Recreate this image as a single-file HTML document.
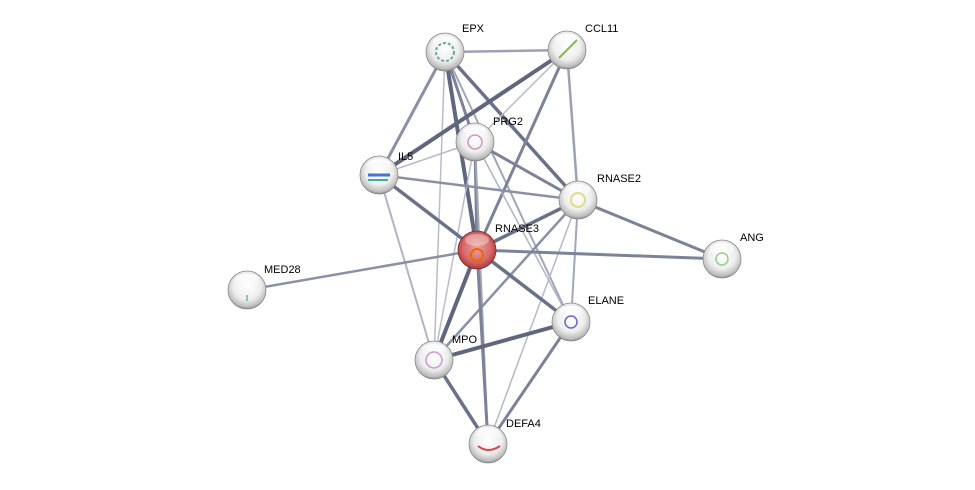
<!DOCTYPE html>
<html><head><meta charset="utf-8"><style>
html,body{margin:0;padding:0;background:#fff;}
svg{display:block;}
text{font-family:"Liberation Sans",sans-serif;font-size:11px;fill:#000;}
</style></head><body>
<svg width="975" height="490" viewBox="0 0 975 490" xmlns="http://www.w3.org/2000/svg">
<defs>
<radialGradient id="g" cx="50%" cy="40%" r="60%">
<stop offset="0" stop-color="#ffffff"/><stop offset="0.6" stop-color="#eeeeee"/><stop offset="0.9" stop-color="#bdbdbd"/><stop offset="1" stop-color="#8e8e8e"/>
</radialGradient>
<radialGradient id="r" cx="50%" cy="45%" r="60%">
<stop offset="0" stop-color="#e9a0a0"/><stop offset="0.6" stop-color="#d76a6a"/><stop offset="0.9" stop-color="#b03c3c"/><stop offset="1" stop-color="#7d2a2a"/>
</radialGradient>
<linearGradient id="h" x1="0" y1="0" x2="0" y2="1"><stop offset="0" stop-color="#fff" stop-opacity="0.95"/><stop offset="1" stop-color="#fff" stop-opacity="0"/></linearGradient>
</defs>
<g stroke-linecap="butt">
<line x1="445" y1="52" x2="567" y2="50" stroke="#9ca1b3" stroke-width="2.5"/>
<line x1="445" y1="52" x2="379" y2="175" stroke="#8a90a5" stroke-width="3"/>
<line x1="445" y1="52" x2="475" y2="142" stroke="#7c8298" stroke-width="3"/>
<line x1="445" y1="52" x2="477" y2="250" stroke="#5f667d" stroke-width="4"/>
<line x1="445" y1="52" x2="578" y2="200" stroke="#6b7188" stroke-width="3.5"/>
<line x1="445" y1="52" x2="571" y2="322" stroke="#a2a7b8" stroke-width="2"/>
<line x1="445" y1="52" x2="434" y2="360" stroke="#b9bccb" stroke-width="1.5"/>
<line x1="567" y1="50" x2="379" y2="175" stroke="#5f667d" stroke-width="4"/>
<line x1="567" y1="50" x2="475" y2="142" stroke="#b5b9c8" stroke-width="1.5"/>
<line x1="567" y1="50" x2="578" y2="200" stroke="#9ca1b3" stroke-width="2.5"/>
<line x1="567" y1="50" x2="477" y2="250" stroke="#7c8298" stroke-width="3"/>
<line x1="475" y1="142" x2="379" y2="175" stroke="#b5b9c8" stroke-width="1.5"/>
<line x1="475" y1="142" x2="578" y2="200" stroke="#7c8298" stroke-width="3"/>
<line x1="475" y1="142" x2="477" y2="250" stroke="#7c8298" stroke-width="3"/>
<line x1="475" y1="142" x2="434" y2="360" stroke="#b9bccb" stroke-width="1.5"/>
<line x1="475" y1="142" x2="571" y2="322" stroke="#b0b4c4" stroke-width="1.5"/>
<line x1="475" y1="142" x2="488" y2="444" stroke="#a2a7b8" stroke-width="2"/>
<line x1="379" y1="175" x2="578" y2="200" stroke="#8a90a5" stroke-width="2.5"/>
<line x1="379" y1="175" x2="477" y2="250" stroke="#6b7188" stroke-width="3.5"/>
<line x1="379" y1="175" x2="434" y2="360" stroke="#b0b4c4" stroke-width="2"/>
<line x1="578" y1="200" x2="477" y2="250" stroke="#6b7188" stroke-width="3.5"/>
<line x1="578" y1="200" x2="722" y2="259" stroke="#7c8298" stroke-width="3"/>
<line x1="578" y1="200" x2="571" y2="322" stroke="#a2a7b8" stroke-width="2"/>
<line x1="578" y1="200" x2="434" y2="360" stroke="#8a90a5" stroke-width="2.5"/>
<line x1="578" y1="200" x2="488" y2="444" stroke="#b5b9c8" stroke-width="1.5"/>
<line x1="477" y1="250" x2="722" y2="259" stroke="#7c8298" stroke-width="3"/>
<line x1="477" y1="250" x2="247" y2="290" stroke="#8a90a5" stroke-width="2.5"/>
<line x1="477" y1="250" x2="571" y2="322" stroke="#6b7188" stroke-width="3.5"/>
<line x1="477" y1="250" x2="434" y2="360" stroke="#5f667d" stroke-width="4"/>
<line x1="477" y1="250" x2="488" y2="444" stroke="#7c8298" stroke-width="3"/>
<line x1="571" y1="322" x2="434" y2="360" stroke="#5f667d" stroke-width="4"/>
<line x1="571" y1="322" x2="488" y2="444" stroke="#7c8298" stroke-width="3"/>
<line x1="434" y1="360" x2="488" y2="444" stroke="#6b7188" stroke-width="3.5"/>
</g>
<g>
<g transform="translate(445,52)"><circle r="19" fill="url(#g)" stroke="#888" stroke-width="0.8"/><ellipse cy="-10" rx="12" ry="6" fill="url(#h)"/><circle r="9" fill="none" stroke="#6a9" stroke-width="2" stroke-dasharray="3 2"/></g>
<g transform="translate(567,50)"><circle r="19" fill="url(#g)" stroke="#888" stroke-width="0.8"/><ellipse cy="-10" rx="12" ry="6" fill="url(#h)"/><path d="M-8 8 Q0 0 10 -10" stroke="#8b4" stroke-width="2" fill="none"/></g>
<g transform="translate(475,142)"><circle r="19" fill="url(#g)" stroke="#888" stroke-width="0.8"/><ellipse cy="-10" rx="12" ry="6" fill="url(#h)"/><circle r="7" fill="none" stroke="#c9b" stroke-width="1.5"/></g>
<g transform="translate(379,175)"><circle r="19" fill="url(#g)" stroke="#888" stroke-width="0.8"/><ellipse cy="-10" rx="12" ry="6" fill="url(#h)"/><path d="M-11 0 h22" stroke="#47c" stroke-width="3"/><path d="M-11 5 h20" stroke="#4a9" stroke-width="2"/></g>
<g transform="translate(578,200)"><circle r="19" fill="url(#g)" stroke="#888" stroke-width="0.8"/><ellipse cy="-10" rx="12" ry="6" fill="url(#h)"/><circle r="7" fill="none" stroke="#dd8" stroke-width="2"/></g>
<g transform="translate(477,250)"><circle r="19" fill="url(#r)" stroke="#7a2a2a" stroke-width="0.8"/><ellipse cy="-10" rx="12" ry="6" fill="#fff" fill-opacity="0.35"/><circle cy="5" r="6" fill="none" stroke="#e60" stroke-width="2"/></g>
<g transform="translate(722,259)"><circle r="19" fill="url(#g)" stroke="#888" stroke-width="0.8"/><ellipse cy="-10" rx="12" ry="6" fill="url(#h)"/><circle r="6" fill="none" stroke="#9c8" stroke-width="1.5"/></g>
<g transform="translate(247,290)"><circle r="19" fill="url(#g)" stroke="#888" stroke-width="0.8"/><ellipse cy="-10" rx="12" ry="6" fill="url(#h)"/><path d="M0 5 v6" stroke="#6b9" stroke-width="1.5"/></g>
<g transform="translate(571,322)"><circle r="19" fill="url(#g)" stroke="#888" stroke-width="0.8"/><ellipse cy="-10" rx="12" ry="6" fill="url(#h)"/><circle r="6" fill="none" stroke="#66c" stroke-width="1.5"/></g>
<g transform="translate(434,360)"><circle r="19" fill="url(#g)" stroke="#888" stroke-width="0.8"/><ellipse cy="-10" rx="12" ry="6" fill="url(#h)"/><circle r="8" fill="none" stroke="#c9c" stroke-width="1.5"/></g>
<g transform="translate(488,444)"><circle r="19" fill="url(#g)" stroke="#888" stroke-width="0.8"/><ellipse cy="-10" rx="12" ry="6" fill="url(#h)"/><path d="M-10 2 Q0 10 12 2" stroke="#d44" stroke-width="2" fill="none"/></g>
</g>
<text x="462" y="32">EPX</text>
<text x="585" y="32">CCL11</text>
<text x="493" y="125">PRG2</text>
<text x="398" y="160">IL5</text>
<text x="597" y="182">RNASE2</text>
<text x="495" y="232">RNASE3</text>
<text x="740" y="241">ANG</text>
<text x="264" y="273">MED28</text>
<text x="588" y="304">ELANE</text>
<text x="452" y="343">MPO</text>
<text x="506" y="427">DEFA4</text>
</svg>
</body></html>
